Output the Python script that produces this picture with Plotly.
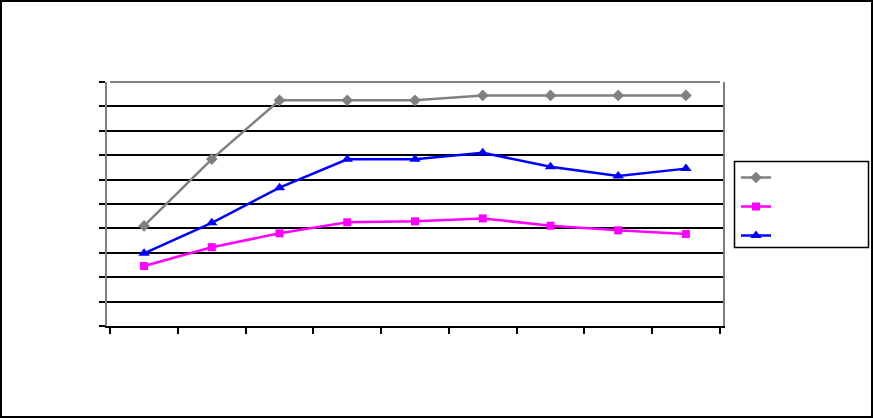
import plotly.graph_objects as go

categories = ["1", "2", "3", "4", "5", "6", "7", "8", "9"]
series_gray = [4.10, 6.84, 9.25, 9.25, 9.25, 9.45, 9.45, 9.45, 9.45]
series_magenta = [2.46, 3.23, 3.80, 4.25, 4.29, 4.41, 4.11, 3.92, 3.77]
series_blue = [2.98, 4.23, 5.67, 6.83, 6.83, 7.10, 6.53, 6.15, 6.45]

W, H = 873, 418
L, R, T, B = 107, 150, 82, 92
PW, PH = W - L - R, H - T - B


def px_x(x):
    return (x - L) / PW


def px_y(y):
    return 1 - (y - T) / PH


fig = go.Figure()
fig.add_trace(go.Scatter(x=categories, y=series_gray, name=" ", mode="lines+markers",
                         line=dict(color="#808080", width=2.5),
                         marker=dict(symbol="diamond", size=9, color="#808080")))
fig.add_trace(go.Scatter(x=categories, y=series_magenta, name=" ", mode="lines+markers",
                         line=dict(color="#FF00FF", width=2.5),
                         marker=dict(symbol="square", size=8, color="#FF00FF")))
fig.add_trace(go.Scatter(x=categories, y=series_blue, name=" ", mode="lines+markers",
                         line=dict(color="#0000FF", width=2.5),
                         marker=dict(symbol="triangle-up", size=10, color="#0000FF")))

shapes = [
    # outer chart frame
    dict(type="rect", xref="paper", yref="paper",
         x0=px_x(1), x1=px_x(W - 1), y0=px_y(H - 1), y1=px_y(1),
         line=dict(color="black", width=2), fillcolor="rgba(0,0,0,0)", layer="above"),
    # gray top of plot area
    dict(type="line", xref="paper", yref="paper", x0=px_x(110), x1=px_x(720), y0=1, y1=1,
         line=dict(color="#808080", width=2), layer="above"),
    # legend box
    dict(type="rect", xref="paper", yref="paper",
         x0=px_x(734.5), x1=px_x(868.5), y0=px_y(247.5), y1=px_y(161.5),
         line=dict(color="black", width=1.5), fillcolor="rgba(0,0,0,0)", layer="above"),
]

fig.update_layout(
    width=W, height=H,
    margin=dict(l=L, r=R, t=T, b=B),
    paper_bgcolor="white", plot_bgcolor="white",
    showlegend=True,
    legend=dict(x=px_x(736), y=px_y(158), xanchor="left", yanchor="top",
                bgcolor="rgba(0,0,0,0)", borderwidth=0,
                font=dict(size=20, family="Liberation Sans"), itemwidth=30),
    shapes=shapes,
)
fig.update_xaxes(type="category", showgrid=False, showticklabels=False,
                 ticks="outside", ticklen=6, tickcolor="black", tickwidth=1.5,
                 tickson="boundaries", showline=True, linecolor="black", linewidth=2,
                 zeroline=False)
fig.update_yaxes(range=[0, 10], dtick=1, showgrid=True, gridcolor="black", gridwidth=1.5,
                 showticklabels=False, ticks="outside", ticklen=6, tickcolor="black",
                 tickwidth=1.5, showline=True, linecolor="#808080", linewidth=2,
                 mirror=True, zeroline=False)

fig.write_html("out.html", config={"displayModeBar": False},
               post_script="document.body.style.margin='0';document.body.style.overflow='hidden';")
